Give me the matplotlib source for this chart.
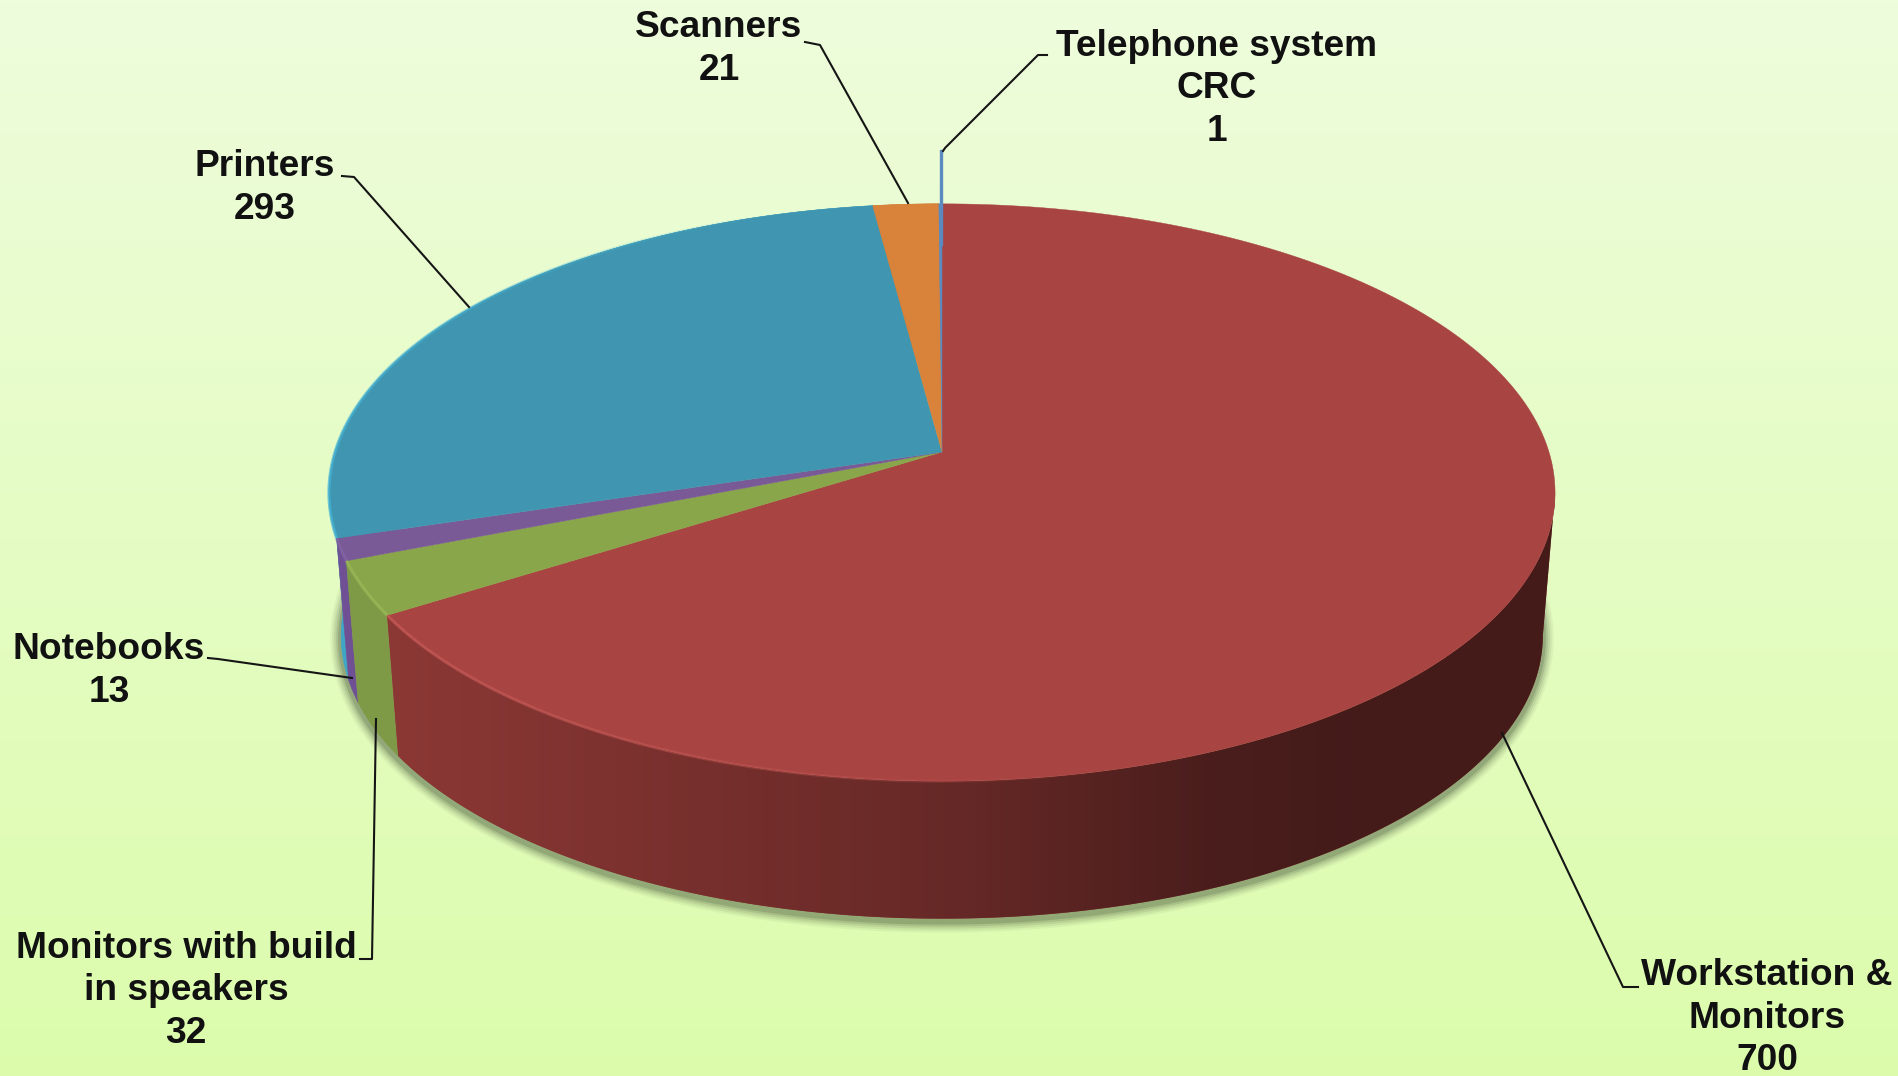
import numpy as np
import matplotlib
matplotlib.use('Agg')
import matplotlib.pyplot as plt
from matplotlib.collections import LineCollection

# clockwise from 12 o'clock
names = ['Workstation &\nMonitors', 'Monitors with build\nin speakers', 'Notebooks',
         'Printers', 'Scanners', 'Telephone system\nCRC']
values = [700, 32, 13, 293, 21, 1]
top_colors = ['#A84442', '#8AA64B', '#7A5A96', '#4096B0', '#D9833A', '#5A8AC0']
wall_colors = ['#8C3835', '#7F9A46', '#6F5095', '#3FA6C6', '#C87830', '#4F7DB0']
rim_colors = ['#C85A58', '#A3C25C', '#8F70AE', '#45B4D6', '#EE9A50', '#6A9AD0']

# label centres and leader lines, in pixels of the picture
label_xy = [(1767, 1018), (186, 991), (109, 671), (265, 188), (719, 49), (1217, 89)]
leaders = [[(1638, 987), (1623, 987), (1502, 733)],
           [(360, 959), (372, 959), (376, 719)],
           [(208, 658), (218, 659), (352, 678)],
           [(342, 176), (354, 177), (469, 307)],
           [(805, 42), (820, 45), (908, 203)],
           [(1047, 55), (1038, 55), (945, 148), (943, 151)]]

# perspective of the disc
cx, cy = 942, 452
A, B, k = 607, 283, 0.1404
depth_scale, depth_drop = 0.98, 144


def project(theta):
    u, v = np.sin(theta), np.cos(theta)
    w = 1 + k * v
    return cx + A * u / w, cy - B * v / w


def base(x, y):
    return cx + depth_scale * (x - cx), cy + depth_scale * (y - cy) + depth_drop


fig = plt.figure(figsize=(18.99, 10.76), dpi=100)
ax = fig.add_axes([0, 0, 1, 1])
ax.set_xlim(0, 1899)
ax.set_ylim(1076, 0)
ax.axis('off')

# background
top_bg = np.array([238, 253, 220]) / 255
bot_bg = np.array([220, 252, 172]) / 255
t = np.linspace(0, 1, 256)[:, None, None]
ax.imshow(top_bg * (1 - t) + bot_bg * t, extent=(0, 1899, 1076, 0), aspect='auto', zorder=0)

# soft shadow under the base
th = np.linspace(0, 2 * np.pi, 721)
bx, by = base(*project(th))
for lw, a in zip([22, 18, 14, 10, 6], [0.05, 0.08, 0.10, 0.14, 0.20]):
    ax.plot(bx, by + 3, color='#3C4A30', lw=lw * 0.72, alpha=a, zorder=1)

total = sum(values)
edges = np.cumsum([0] + values) / total * 2 * np.pi
silhouette = np.arccos(-k)  # rim is widest here, the wall starts to show

# walls, far wedges first
wall_order = [4, 5, 3, 2, 1, 0]
for z, i in enumerate(wall_order):
    ang = np.linspace(max(edges[i], silhouette) if i == 0 else edges[i], edges[i + 1], 300)
    x, y = project(ang)
    x2, y2 = base(x, y)
    px, py = np.r_[x, x2[::-1]], np.r_[y, y2[::-1]]
    patch = ax.fill(px, py, color=wall_colors[i], lw=0.4, zorder=2 + z * 0.01)[0]
    if i == 0:
        # the big red wall darkens towards the right
        xs = np.linspace(0, 1899, 950)
        f = np.interp(xs, [385, 600, 970, 1210, 1350], [1.0, 0.9, 0.72, 0.53, 0.49])
        grad = (np.array(matplotlib.colors.to_rgb(wall_colors[0]))[None, None, :] * f[None, :, None])
        im = ax.imshow(grad, extent=(0, 1899, 1076, 0), aspect='auto', zorder=2.5)
        im.set_clip_path(patch)
        patch.set_edgecolor('none')

# top faces
for i in range(len(values)):
    ang = np.linspace(edges[i], edges[i + 1], 200)
    x, y = project(ang)
    ax.fill(np.r_[cx, x], np.r_[cy, y], color=top_colors[i], lw=0.3, zorder=3)

    # bevel on the rim, strongest towards the lower left
    pts = np.c_[x, y]
    segs = np.stack([pts[:-1], pts[1:]], axis=1)
    mid = ang[:-1]
    strength = np.clip(-np.sin(mid) * 1.0 - np.cos(mid) * 0.3 - 0.05, 0, 1) * 0.75
    rgba = np.tile(matplotlib.colors.to_rgba(rim_colors[i]), (len(mid), 1))
    rgba[:, 3] = strength
    ax.add_collection(LineCollection(segs, colors=rgba, linewidths=2.2, zorder=4))

# telephone sliver reaches up to its leader
tx, ty = project(edges[-2])
ax.plot([tx + 2, tx + 2], [151, ty + 40], color=top_colors[5], lw=2.4, zorder=5)

for pts in leaders:
    xs, ys = zip(*pts)
    ax.plot(xs, ys, color='#151515', lw=1.5, zorder=6)

for name, val, (lx, ly) in zip(names, values, label_xy):
    ax.text(lx, ly, f'{name}\n{val}', ha='center', va='center', family='Liberation Sans',
            fontweight='bold', fontsize=26.7, color='#111111', linespacing=1.26, zorder=7)

fig.savefig('out.png', dpi=100)
